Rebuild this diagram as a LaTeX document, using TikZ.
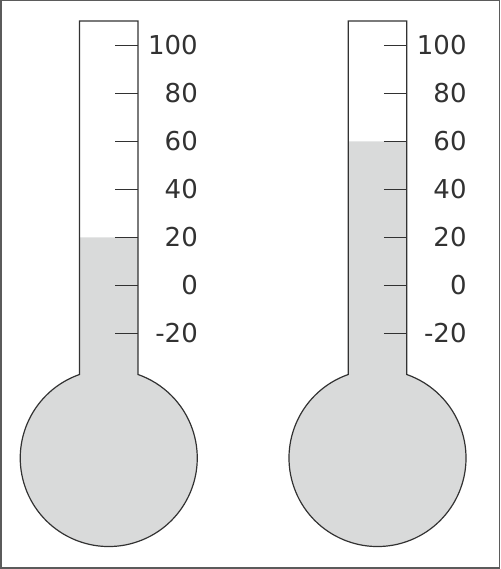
\documentclass[tikz,border=0pt]{standalone}
\usepackage{fontspec}
\setmainfont{DejaVu Sans}
\usetikzlibrary{calc}
\definecolor{liquid}{RGB}{217,218,218}
\definecolor{ink}{RGB}{50,50,50}
\tikzset{every node/.style={font=\fontsize{26}{30}\selectfont,text=ink,inner sep=0pt},glass/.style={draw=ink,line width=1.2pt},column/.style={fill=liquid},scaletick/.style={draw=ink,line width=1.2pt},frame/.style={draw=ink!80,line width=1.5pt}}

\begin{document}
\begin{tikzpicture}[x=1pt,y=1pt]
\useasboundingbox (0,0) rectangle (500,569);
\draw[frame] (0.75,0.75) rectangle (499.25,568.25);
\foreach \cx/\lev/\t in {108.75/20/a,377.5/60/b}{
\fill[column] (\cx-29.25,283.5+2.4*\lev)--(\cx-29.25,194.5) arc[start angle=109.3,end angle=430.7,radius=88.5]--(\cx+29.25,283.5+2.4*\lev)--cycle;
\draw[glass] (\cx-29.25,548)--(\cx-29.25,194.5) arc[start angle=109.3,end angle=430.7,radius=88.5]--(\cx+29.25,548)--cycle;
\foreach \v in {-20,0,20,40,60,80,100}{\draw[scaletick] (\cx+6.25,283.5+2.4*\v)--++(23,0);\node[anchor=east] (lab\t\v) at (\cx+89.25,283.5+2.4*\v){\v};}
}
\end{tikzpicture}
\end{document}
